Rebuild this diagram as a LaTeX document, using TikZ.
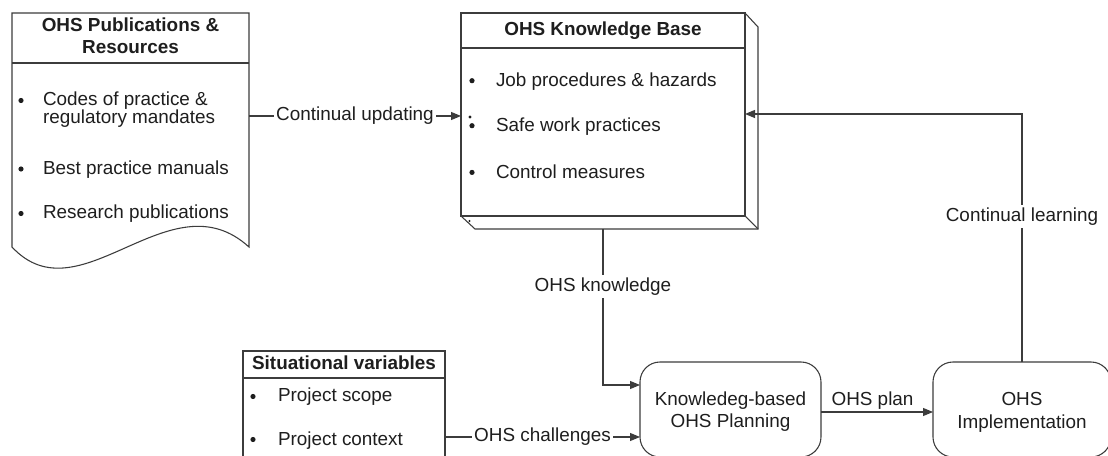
\documentclass[tikz,border=0pt]{standalone}
\usepackage{fontspec}
\setmainfont{Liberation Sans}
\usetikzlibrary{arrows.meta,calc}
\definecolor{linec}{HTML}{3C3C3C}
\definecolor{txtc}{HTML}{1E1E1E}
\begin{document}
\begin{tikzpicture}[x=0.75pt,y=-0.75pt,
  ln/.style={draw=linec, line width=0.8pt},
  arr/.style={ln, -{Triangle[length=7.5pt,width=6pt]}},
  txt/.style={inner sep=0pt, outer sep=0pt, text=txtc, font=\fontsize{14.17}{17}\selectfont},
  hd/.style={txt, font=\bfseries\fontsize{14.17}{17}\selectfont},
  lbl/.style={txt, fill=white, inner xsep=1.5pt, inner ysep=2pt},
  frame/.style={rectangle, inner sep=0pt, outer sep=0pt, anchor=north west},
  roundbox/.style={frame, draw=linec, line width=0.8pt, fill=white, rounded corners=15pt},
  bul/.style={fill=txtc}
]
\path[use as bounding box, fill=white] (0,0) rectangle (1108,456);
\clip (0,0) rectangle (1108,456);

% ---------- OHS Publications & Resources (document shape)
\node[frame, minimum width={237*0.75pt}, minimum height={234*0.75pt}] (pub) at (12,13) {};
\draw[ln, fill=white] (pub.north west) -- (pub.north east) -- (pub.south east)
   .. controls (170,175) and (80,320) .. (pub.south west) -- cycle;
\draw[ln] ($(pub.north west)+(0,50)$) -- ($(pub.north east)+(0,50)$);
\node[hd, anchor=base] (pubh1) at (130.5,31.5) {OHS Publications \&};
\node[hd, anchor=base] (pubh2) at (130.5,53.5) {Resources};
\fill[bul] (21,100.5) circle (2.6);
\fill[bul] (21,169) circle (2.6);
\fill[bul] (21,213.5) circle (2.6);
\node[txt, anchor=base west] (pub1a) at (43,106) {Codes of practice \&};
\node[txt, anchor=base west] (pub1b) at (43,123.3) {regulatory mandates};
\node[txt, anchor=base west] (pub2) at (43,174.4) {Best practice manuals};
\node[txt, anchor=base west] (pub3) at (43,219) {Research publications};

% ---------- OHS Knowledge Base (3D box)
\node[frame, draw=linec, line width=0.8pt, fill=white, minimum width={284*0.75pt}, minimum height={203*0.75pt}] (kb) at (461,13) {};
\draw[ln] (kb.north east) -- ++(13,14) -- ++(0,202) -- ++(-283,0) -- (kb.south west);
\draw[ln] (kb.south east) -- ++(13,13);
\draw[ln] ($(kb.north west)+(0,35)$) -- ($(kb.north east)+(0,35)$);
\node[hd, anchor=base] (kbh) at (603,36) {OHS Knowledge Base};
\fill[bul] (472,80.7) circle (2.6);
\fill[bul] (470,117) circle (1.6);
\fill[bul] (472,125.7) circle (2.6);
\fill[bul] (472,172.4) circle (2.6);
\fill[bul] (469.5,221) circle (1.1);
\node[txt, anchor=base west] (kb1) at (496,86.7) {Job procedures \& hazards};
\node[txt, anchor=base west] (kb2) at (496,131.7) {Safe work practices};
\node[txt, anchor=base west] (kb3) at (496,178.4) {Control measures};

% ---------- Situational variables
\node[frame, draw=linec, line width=0.8pt, fill=white, minimum width={202*0.75pt}, minimum height={120*0.75pt}] (sit) at (243,351) {};
\draw[ln] ($(sit.north west)+(0,27)$) -- ($(sit.north east)+(0,27)$);
\node[hd, anchor=base] (sith) at (344,369) {Situational variables};
\fill[bul] (253,396.5) circle (2.6);
\fill[bul] (253,439.5) circle (2.6);
\node[txt, anchor=base west] (sit1) at (278,402) {Project scope};
\node[txt, anchor=base west] (sit2) at (278,445.4) {Project context};

% ---------- Planning and Implementation
\node[roundbox, minimum width={181*0.75pt}, minimum height={95*0.75pt}] (plan) at (640,362) {};
\node[txt, anchor=base] (plan1) at (730.5,406) {Knowledeg-based};
\node[txt, anchor=base] (plan2) at (730.5,427.7) {OHS Planning};
\node[roundbox, minimum width={178*0.75pt}, minimum height={95*0.75pt}] (impl) at (933,362) {};
\node[txt, anchor=base] (impl1) at (1022,406) {OHS};
\node[txt, anchor=base] (impl2) at (1022,428) {Implementation};

% ---------- Connectors
\coordinate (yupd) at (0,116);
\coordinate (ylearn) at (0,114);
\coordinate (ychal) at (0,437);
\coordinate (yplan) at (0,412);
\coordinate (kbb) at ($(kb.south)+(0,13)$);
\coordinate (pk) at ($(plan.north west)+(0,23)$);

\draw[arr] (pub.east |- yupd) -- node[lbl] {Continual updating} (kb.west |- yupd);
\draw[arr] (kbb) -- node[lbl, pos=0.37] {OHS knowledge} (kbb |- pk) -- (pk);
\draw[arr] (sit.east |- ychal) -- node[lbl] {OHS challenges} (plan.west |- ychal);
\draw[arr] (plan.east |- yplan) -- node[txt, anchor=base, yshift=4.5pt, pos=0.46] {OHS plan} (impl.west |- yplan);
\draw[arr] (impl.north) -- node[lbl, pos=0.585] {Continual learning} (impl.north |- ylearn) -- (kb.east |- ylearn);
\end{tikzpicture}
\end{document}
